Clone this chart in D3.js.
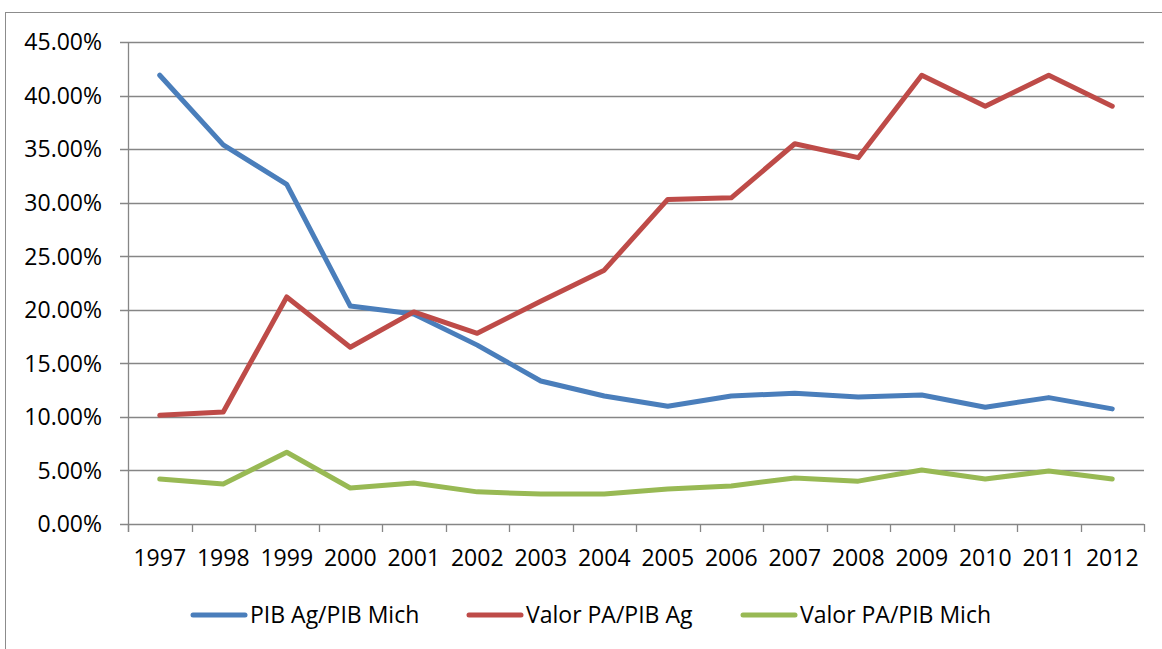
<!DOCTYPE html>
<html>
<head>
<meta charset="utf-8">
<script src="https://cdn.jsdelivr.net/npm/d3@7"></script>
<style>
  body { margin: 0; background: #fff; }
  svg text { font-family: "Open Sans", "Liberation Sans", sans-serif; fill: #000; }
</style>
</head>
<body>
<svg id="chart"></svg>
<script>
var years = ["1997","1998","1999","2000","2001","2002","2003","2004",
             "2005","2006","2007","2008","2009","2010","2011","2012"];

var pibAgPibMich = [41.9, 35.4, 31.7, 20.35, 19.6, 16.7, 13.35, 11.95,
                    11.0, 11.95, 12.2, 11.86, 12.05, 10.9, 11.8, 10.75];
var valorPaPibAg = [10.15, 10.45, 21.2, 16.5, 19.8, 17.8, 20.8, 23.7,
                    30.3, 30.45, 35.5, 34.2, 41.9, 39.0, 41.9, 39.0];
var valorPaPibMich = [4.2, 3.73, 6.7, 3.36, 3.83, 3.0, 2.8, 2.8,
                      3.27, 3.55, 4.3, 4.0, 5.04, 4.2, 4.95, 4.2];

var yTicks = [0, 5, 10, 15, 20, 25, 30, 35, 40, 45];

var seriesNames = ["PIB Ag/PIB Mich", "Valor PA/PIB Ag", "Valor PA/PIB Mich"];
var seriesColors = ["#4a7ebb", "#be4b48", "#98b954"];

var series = [pibAgPibMich, valorPaPibAg, valorPaPibMich].map(function(vals, i) {
  return { name: seriesNames[i], color: seriesColors[i], values: vals };
});

var svg = d3.select("#chart")
            .attr("width", 1162)
            .attr("height", 649);

// outer chart border
svg.append("rect")
   .attr("x", 5.5)
   .attr("y", 12.5)
   .attr("width", 1170)
   .attr("height", 660)
   .attr("fill", "none")
   .attr("stroke", "#8c8c8c")
   .attr("stroke-width", 1);

var margins = { left: 128, right: 18, top: 42, bottom: 125 };
var width = 1162 - margins.left - margins.right;
var height = 649 - margins.top - margins.bottom;

var xScale = d3.scaleBand()
               .domain(years)
               .range([0, width]);

var yScale = d3.scaleLinear()
               .domain([0, 45])
               .range([height, 0]);

var g = svg.append("g")
           .attr("transform", "translate(" + margins.left + "," + margins.top + ")");

// horizontal gridlines
g.selectAll("line.grid")
 .data(yTicks)
 .enter()
 .append("line")
 .attr("class", "grid")
 .attr("x1", -8)
 .attr("x2", width)
 .attr("y1", function(d) { return Math.round(yScale(d)) + 0.5; })
 .attr("y2", function(d) { return Math.round(yScale(d)) + 0.5; })
 .attr("stroke", "#868686")
 .attr("stroke-width", 1.3);

// y axis line
g.append("line")
 .attr("x1", 0.5).attr("x2", 0.5)
 .attr("y1", 0).attr("y2", height + 8)
 .attr("stroke", "#868686")
 .attr("stroke-width", 1.3);

// y labels
g.selectAll("text.ylab")
 .data(yTicks)
 .enter()
 .append("text")
 .attr("class", "ylab")
 .attr("x", -26)
 .attr("y", function(d) { return yScale(d); })
 .attr("dy", "0.36em")
 .attr("text-anchor", "end")
 .style("font-size", "23px")
 .text(function(d) { return d3.format(".2f")(d) + "%"; });

// x tick marks at category boundaries
var boundaries = years.map(function(d) { return xScale(d); }).concat([width]);
g.selectAll("line.xtick")
 .data(boundaries)
 .enter()
 .append("line")
 .attr("class", "xtick")
 .attr("x1", function(d) { return Math.round(d) + 0.5; })
 .attr("x2", function(d) { return Math.round(d) + 0.5; })
 .attr("y1", height)
 .attr("y2", height + 8)
 .attr("stroke", "#868686")
 .attr("stroke-width", 1.3);

// x labels
g.selectAll("text.xlab")
 .data(years)
 .enter()
 .append("text")
 .attr("class", "xlab")
 .attr("x", function(d) { return xScale(d) + xScale.bandwidth() / 2; })
 .attr("y", height + 42)
 .attr("text-anchor", "middle")
 .style("font-size", "23px")
 .text(function(d) { return d; });

var line = d3.line()
             .x(function(d, i) { return xScale(years[i]) + xScale.bandwidth() / 2; })
             .y(function(d) { return yScale(d); });

g.selectAll("path.series")
 .data(series)
 .enter()
 .append("path")
 .attr("class", "series")
 .attr("d", function(d) { return line(d.values); })
 .attr("fill", "none")
 .attr("stroke", function(d) { return d.color; })
 .attr("stroke-width", 5)
 .attr("stroke-linejoin", "round")
 .attr("stroke-linecap", "round");

// legend
var legendX = [193, 469, 743];
var legend = svg.selectAll("g.legend")
                .data(series)
                .enter()
                .append("g")
                .attr("class", "legend")
                .attr("transform", function(d, i) { return "translate(" + legendX[i] + ",615)"; });

legend.append("line")
      .attr("x1", 0).attr("x2", 52)
      .attr("y1", 0).attr("y2", 0)
      .attr("stroke", function(d) { return d.color; })
      .attr("stroke-width", 5)
      .attr("stroke-linecap", "round");

legend.append("text")
      .attr("x", 57)
      .attr("y", 0)
      .attr("dy", "0.36em")
      .style("font-size", "23px")
      .text(function(d) { return d.name; });
</script>
</body>
</html>
